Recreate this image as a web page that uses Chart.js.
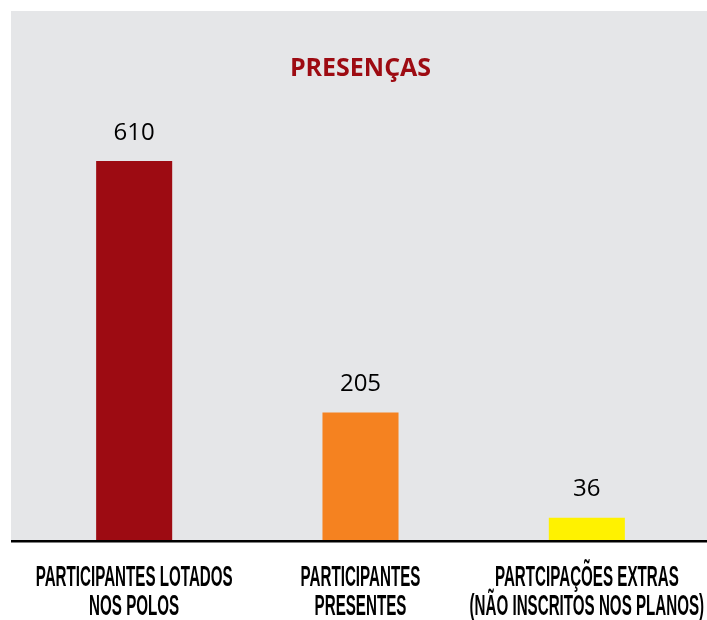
<!DOCTYPE html>
<html>
<head>
<meta charset="utf-8">
<script src="https://cdn.jsdelivr.net/npm/chart.js@4/dist/chart.umd.min.js"></script>
<style>
  html, body { margin: 0; padding: 0; background: #fff; }
  #wrap { width: 707px; height: 620px; position: relative; }
</style>
</head>
<body>
<div id="wrap"><canvas id="chart"></canvas></div>
<script>
// categories (each label split in two lines, as in the picture)
var categories = [
  ['PARTICIPANTES LOTADOS', 'NOS POLOS'],
  ['PARTICIPANTES', 'PRESENTES'],
  ['PARTCIPAÇÕES EXTRAS', '(NÃO INSCRITOS NOS PLANOS)']
];
// values shown above the bars
var presencas = [610, 205, 36];
var barColors = ['#9d0b12', '#f58220', '#fff200'];
var chartTitle = 'PRESENÇAS';

var panelGray = '#e5e6e8';

// gray panel + baseline
var panelPlugin = {
  id: 'panel',
  beforeDraw: function (chart) {
    var ctx = chart.ctx;
    var y0 = chart.scales.y.getPixelForValue(0);
    ctx.save();
    ctx.fillStyle = '#ffffff';
    ctx.fillRect(0, 0, chart.width, chart.height);
    ctx.fillStyle = panelGray;
    ctx.fillRect(11, 11, chart.width - 11, y0 - 11);
    ctx.restore();
  },
  afterDatasetsDraw: function (chart) {
    var ctx = chart.ctx;
    var y0 = chart.scales.y.getPixelForValue(0);
    ctx.save();
    ctx.fillStyle = '#000';
    ctx.fillRect(11, y0, chart.width - 11, 2.5);
    ctx.restore();
  }
};

// numbers above bars
var valuePlugin = {
  id: 'values',
  afterDatasetsDraw: function (chart) {
    var ctx = chart.ctx;
    var meta = chart.getDatasetMeta(0);
    ctx.save();
    ctx.font = '24px "Open Sans", sans-serif';
    ctx.fillStyle = '#000';
    ctx.textAlign = 'center';
    ctx.textBaseline = 'middle';
    meta.data.forEach(function (bar, i) {
      ctx.fillText(chart.data.datasets[0].data[i], bar.x, bar.y - 28);
    });
    ctx.restore();
  }
};

// condensed category labels under the axis
var catPlugin = {
  id: 'catLabels',
  afterDraw: function (chart) {
    var ctx = chart.ctx;
    var xs = chart.scales.x;
    ctx.save();
    ctx.font = 'bold 29px "Liberation Sans Narrow", "Liberation Sans", sans-serif';
    ctx.fillStyle = '#000';
    ctx.textAlign = 'center';
    ctx.textBaseline = 'middle';
    // squeeze so the first line is as wide as in the picture
    var sx = 197 / ctx.measureText(chart.data.labels[0][0]).width;
    chart.data.labels.forEach(function (lines, i) {
      var cx = xs.getPixelForValue(i);
      lines.forEach(function (txt, j) {
        ctx.save();
        ctx.translate(cx, 578 + j * 29);
        ctx.scale(sx, 1);
        ctx.fillText(txt, 0, 0);
        ctx.restore();
      });
    });
    ctx.restore();
  }
};

var chart = new Chart(document.getElementById('chart'), {
  type: 'bar',
  data: {
    labels: categories,
    datasets: [{
      data: presencas,
      backgroundColor: barColors,
      borderWidth: 0,
      categoryPercentage: 1,
      barPercentage: 0.336
    }]
  },
  options: {
    responsive: true,
    maintainAspectRatio: false,
    animation: false,
    layout: { padding: { left: 21, right: 7, top: 0, bottom: 80 } },
    plugins: {
      legend: { display: false },
      tooltip: { enabled: false },
      title: {
        display: true,
        text: chartTitle,
        color: '#9d0b12',
        font: { family: '"Open Sans", sans-serif', size: 25, weight: 'bold' },
        padding: { top: 54, bottom: 21 }
      }
    },
    scales: {
      x: { display: false },
      y: { display: false, min: 0, max: 700 }
    }
  },
  plugins: [panelPlugin, valuePlugin, catPlugin]
});
</script>
</body>
</html>
